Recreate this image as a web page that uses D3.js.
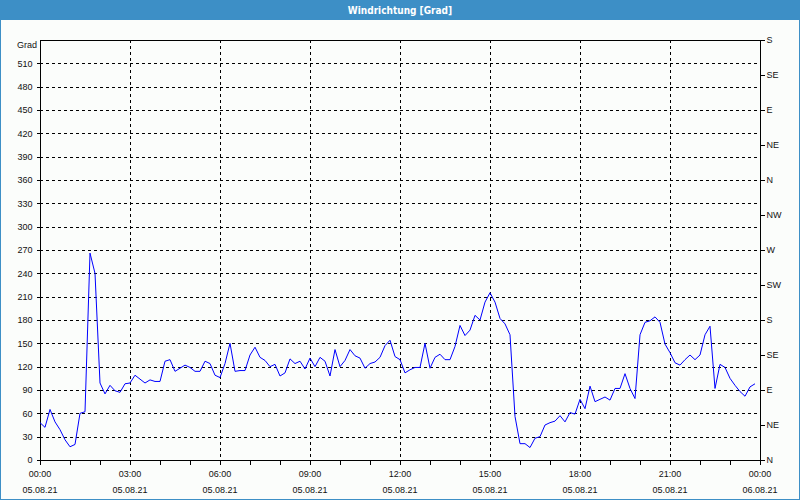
<!DOCTYPE html>
<html>
<head>
<meta charset="utf-8">
<script src="https://cdn.jsdelivr.net/npm/d3@7"></script>
<style>
  html, body { margin: 0; padding: 0; background: #fbfdfb; }
  svg { display: block; }
  text { font-family: "Liberation Sans", Arial, sans-serif; font-size: 9px; fill: #111; }
</style>
</head>
<body>
<svg id="chart" width="800" height="500"></svg>
<script>
// ---- data (10-minute samples starting 05.08.21 00:00) ----
const title = "Windrichtung [Grad]";
const yUnit = "Grad";
const windDir = [
  48, 42, 65, 49, 39, 26, 17, 20, 60, 62,
  266, 240, 99, 85, 96, 89, 87, 98, 99, 109,
  104, 99, 103, 101, 101, 127, 129, 114, 118, 122,
  119, 114, 114, 127, 124, 109, 106, 124, 150, 114,
  115, 115, 135, 145, 132, 128, 120, 123, 108, 112,
  130, 124, 127, 117, 131, 120, 132, 127, 108, 142,
  120, 128, 142, 134, 131, 118, 124, 126, 132, 147,
  154, 133, 129, 112, 116, 119, 119, 150, 118, 132,
  136, 129, 129, 146, 173, 160, 167, 186, 180, 203,
  215, 203, 182, 175, 161, 56, 21, 21, 16, 28,
  30, 45, 48, 50, 57, 49, 61, 59, 78, 66,
  95, 75, 78, 81, 77, 92, 92, 111, 92, 79,
  161, 177, 179, 184, 177, 149, 138, 125, 122, 129,
  135, 129, 135, 161, 172, 92, 123, 119, 105, 96,
  88, 82, 94, 98
];
const sampleMinutes = 10;
const yTicks = [0, 30, 60, 90, 120, 150, 180, 210, 240, 270, 300, 330, 360, 390, 420, 450, 480, 510];
const compassTicks = [0, 45, 90, 135, 180, 225, 270, 315, 360, 405, 450, 495, 540];
const compassLabels = ["N", "NE", "E", "SE", "S", "SW", "W", "NW", "N", "NE", "E", "SE", "S"];
const timeTicksMin = [0, 180, 360, 540, 720, 900, 1080, 1260, 1440];
const timeLabels = ["00:00", "03:00", "06:00", "09:00", "12:00", "15:00", "18:00", "21:00", "00:00"];
const dateLabels = ["05.08.21", "05.08.21", "05.08.21", "05.08.21", "05.08.21", "05.08.21", "05.08.21", "05.08.21", "06.08.21"];
const hourTicksMin = d3.range(0, 1441, 60);

// ---- layout ----
const W = 800, H = 500;
const plot = { left: 40, right: 760, top: 40, bottom: 460 };
const svg = d3.select("#chart");

const x = d3.scaleLinear().domain([0, 1440]).range([plot.left, plot.right]);
const y = d3.scaleLinear().domain([0, 540]).range([plot.bottom, plot.top]);

// background + frame
svg.append("rect").attr("x", 0).attr("y", 0).attr("width", W).attr("height", H).attr("fill", "#fbfdfb");
svg.append("rect").attr("x", 0.5).attr("y", 0.5).attr("width", W - 1).attr("height", H - 1)
  .attr("fill", "none").attr("stroke", "#3d8fc6").attr("stroke-width", 1);
svg.append("rect").attr("x", 0).attr("y", 0).attr("width", W).attr("height", 20).attr("fill", "#3d8fc6");
svg.append("text").attr("x", W / 2).attr("y", 13.5).attr("text-anchor", "middle")
  .style("fill", "#ffffff").style("font-weight", "bold").style("font-size", "10px")
  .style("font-family", "'DejaVu Sans Condensed', 'Liberation Sans', sans-serif")
  .text(title);

// grid
const grid = svg.append("g").attr("stroke", "#000").attr("stroke-width", 1)
  .attr("stroke-dasharray", "3,3").attr("shape-rendering", "crispEdges");
grid.selectAll("line.h").data(yTicks.filter(v => v > 0)).join("line")
  .attr("x1", plot.left).attr("x2", plot.right)
  .attr("y1", d => Math.round(y(d)) + 0.5).attr("y2", d => Math.round(y(d)) + 0.5);
grid.selectAll("line.v").data(timeTicksMin.filter(v => v > 0 && v < 1440)).join("line")
  .attr("y1", plot.top).attr("y2", plot.bottom)
  .attr("x1", d => Math.round(x(d)) + 0.5).attr("x2", d => Math.round(x(d)) + 0.5);

// axes via d3
const leftAxis = d3.axisLeft(y).tickValues(yTicks).tickSize(4).tickPadding(4).tickFormat(d3.format("d"));
const gL = svg.append("g").attr("transform", `translate(${plot.left + 0.5},0)`).call(leftAxis);
const rightAxis = d3.axisRight(y).tickValues(compassTicks).tickSize(4).tickPadding(2)
  .tickFormat((d, i) => compassLabels[i]);
const gR = svg.append("g").attr("transform", `translate(${plot.right + 0.5},0)`).call(rightAxis);
const bottomAxis = d3.axisBottom(x).tickValues(hourTicksMin).tickSize(4).tickFormat("");
const gB = svg.append("g").attr("transform", `translate(0,${plot.bottom + 0.5})`).call(bottomAxis);

[gL, gR, gB].forEach(g => {
  g.select(".domain").remove();
  g.selectAll("line").attr("stroke", "#000").attr("shape-rendering", "crispEdges");
  g.selectAll("text").style("font-size", "9px").style("font-family", "'Liberation Sans', Arial, sans-serif").style("fill", "#111");
});

// time + date labels
const labG = svg.append("g").attr("text-anchor", "middle");
labG.selectAll("text.t").data(timeTicksMin).join("text")
  .attr("x", d => x(d)).attr("y", 477).text((d, i) => timeLabels[i]);
labG.selectAll("text.d").data(timeTicksMin).join("text")
  .attr("x", d => x(d)).attr("y", 492.5).text((d, i) => dateLabels[i]);

// unit label
svg.append("text").attr("x", 37).attr("y", 48).attr("text-anchor", "end").text(yUnit);

// plot frame
svg.append("rect").attr("x", plot.left + 0.5).attr("y", plot.top + 0.5)
  .attr("width", plot.right - plot.left).attr("height", plot.bottom - plot.top)
  .attr("fill", "none").attr("stroke", "#000").attr("stroke-width", 1).attr("shape-rendering", "crispEdges");

// line
const line = d3.line()
  .x((d, i) => x(i * sampleMinutes))
  .y(d => y(d));
svg.append("path").datum(windDir).attr("d", line)
  .attr("fill", "none").attr("stroke", "#0000ff").attr("stroke-width", 1);
</script>
</body>
</html>
